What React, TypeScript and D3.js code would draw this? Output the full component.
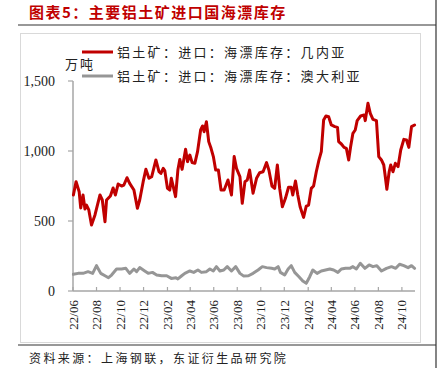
import React from "react";
import * as d3 from "d3";

const titleText = "图表5：主要铝土矿进口国海漂库存";
const sourceText = "资料来源：上海钢联，东证衍生品研究院";
const unitText = "万吨";
const seriesNames = ["铝土矿：进口：海漂库存：几内亚", "铝土矿：进口：海漂库存：澳大利亚"];
const seriesColors = ["#c00000", "#969696"];

const yTicks = [0, 500, 1000, 1500];
const xTickLabels = ["22/06", "22/08", "22/10", "22/12", "23/02", "23/04", "23/06", "23/08", "23/10", "23/12", "24/02", "24/04", "24/06", "24/08", "24/10"];
const xDomain = ["2022-06-01", "2024-11-04"];

const guinea: [string, number][] = [
  ["2022-06-02", 686], ["2022-06-09", 781], ["2022-06-17", 709], ["2022-06-21", 593], ["2022-06-27", 686],
  ["2022-07-02", 586], ["2022-07-06", 614], ["2022-07-12", 579], ["2022-07-19", 471], ["2022-07-28", 543],
  ["2022-08-10", 686], ["2022-08-16", 650], ["2022-08-23", 495], ["2022-08-27", 650], ["2022-09-06", 679],
  ["2022-09-13", 736], ["2022-09-19", 686], ["2022-09-26", 764], ["2022-10-05", 750], ["2022-10-11", 757],
  ["2022-10-19", 809], ["2022-10-26", 769], ["2022-11-06", 721], ["2022-11-15", 591], ["2022-11-21", 650],
  ["2022-11-30", 781], ["2022-12-07", 869], ["2022-12-15", 805], ["2022-12-22", 816], ["2023-01-02", 936],
  ["2023-01-10", 852], ["2023-01-15", 840], ["2023-01-21", 876], ["2023-01-25", 860], ["2023-02-01", 733],
  ["2023-02-07", 721], ["2023-02-11", 805], ["2023-02-16", 745], ["2023-02-22", 674], ["2023-02-28", 864],
  ["2023-03-05", 940], ["2023-03-11", 869], ["2023-03-20", 1012], ["2023-03-25", 924], ["2023-03-31", 971],
  ["2023-04-06", 917], ["2023-04-13", 912], ["2023-04-20", 995], ["2023-04-28", 1150], ["2023-05-03", 1179],
  ["2023-05-07", 1138], ["2023-05-13", 1209], ["2023-05-19", 1067], ["2023-05-25", 1019], ["2023-05-31", 960],
  ["2023-06-06", 864], ["2023-06-13", 864], ["2023-06-20", 721], ["2023-06-28", 721], ["2023-07-08", 793],
  ["2023-07-17", 686], ["2023-07-24", 960], ["2023-07-30", 876], ["2023-08-08", 816], ["2023-08-14", 626],
  ["2023-08-21", 781], ["2023-08-27", 793], ["2023-09-02", 864], ["2023-09-11", 698], ["2023-09-20", 805],
  ["2023-09-28", 845], ["2023-10-07", 852], ["2023-10-16", 917], ["2023-10-22", 864], ["2023-10-30", 750],
  ["2023-11-06", 733], ["2023-11-13", 900], ["2023-11-19", 733], ["2023-11-26", 602], ["2023-12-04", 662],
  ["2023-12-12", 741], ["2023-12-19", 741], ["2023-12-23", 686], ["2023-12-30", 786], ["2024-01-05", 686],
  ["2024-01-11", 602], ["2024-01-20", 526], ["2024-01-27", 607], ["2024-02-02", 614], ["2024-02-09", 733],
  ["2024-02-15", 750], ["2024-02-22", 852], ["2024-02-29", 936], ["2024-03-06", 995], ["2024-03-12", 1221],
  ["2024-03-18", 1250], ["2024-03-25", 1245], ["2024-04-01", 1186], ["2024-04-10", 1174], ["2024-04-17", 1169],
  ["2024-04-20", 1067], ["2024-04-27", 1050], ["2024-05-04", 1026], ["2024-05-10", 1019], ["2024-05-16", 936],
  ["2024-05-21", 1031], ["2024-05-27", 1126], ["2024-06-02", 1150], ["2024-06-07", 1217], ["2024-06-16", 1250],
  ["2024-06-25", 1257], ["2024-06-28", 1217], ["2024-07-05", 1341], ["2024-07-11", 1269], ["2024-07-18", 1226],
  ["2024-07-27", 1217], ["2024-08-02", 960], ["2024-08-09", 936], ["2024-08-15", 900], ["2024-08-19", 816],
  ["2024-08-23", 726], ["2024-08-29", 852], ["2024-09-02", 900], ["2024-09-08", 852], ["2024-09-14", 912],
  ["2024-09-21", 888], ["2024-09-28", 1007], ["2024-10-06", 1083], ["2024-10-13", 1079], ["2024-10-19", 1026],
  ["2024-10-26", 1174], ["2024-11-03", 1186],
];

const australia: [string, number][] = [
  ["2022-06-02", 119], ["2022-06-14", 126], ["2022-06-27", 126], ["2022-07-10", 138], ["2022-07-22", 126],
  ["2022-08-01", 181], ["2022-08-12", 126], ["2022-08-23", 109], ["2022-09-01", 95], ["2022-09-09", 114],
  ["2022-09-22", 157], ["2022-10-05", 157], ["2022-10-16", 162], ["2022-10-26", 126], ["2022-11-06", 157],
  ["2022-11-13", 138], ["2022-11-21", 167], ["2022-12-04", 143], ["2022-12-13", 126], ["2022-12-24", 133],
  ["2023-01-04", 114], ["2023-01-17", 109], ["2023-01-30", 109], ["2023-02-11", 90], ["2023-02-23", 95],
  ["2023-02-28", 86], ["2023-03-10", 109], ["2023-03-18", 126], ["2023-03-31", 143], ["2023-04-10", 133],
  ["2023-04-21", 150], ["2023-04-30", 133], ["2023-05-13", 138], ["2023-05-22", 157], ["2023-05-31", 143],
  ["2023-06-08", 174], ["2023-06-17", 143], ["2023-06-27", 150], ["2023-07-06", 174], ["2023-07-17", 143],
  ["2023-07-28", 174], ["2023-08-08", 126], ["2023-08-17", 108], ["2023-08-30", 109], ["2023-09-11", 126],
  ["2023-09-24", 150], ["2023-10-05", 174], ["2023-10-16", 167], ["2023-10-29", 162], ["2023-11-06", 157],
  ["2023-11-15", 174], ["2023-11-21", 133], ["2023-12-02", 114], ["2023-12-11", 157], ["2023-12-19", 181],
  ["2023-12-28", 133], ["2024-01-08", 102], ["2024-01-18", 71], ["2024-01-27", 55], ["2024-02-05", 102],
  ["2024-02-13", 150], ["2024-02-24", 126], ["2024-03-06", 143], ["2024-03-17", 150], ["2024-03-28", 157],
  ["2024-04-07", 150], ["2024-04-18", 133], ["2024-04-27", 157], ["2024-05-08", 162], ["2024-05-19", 162],
  ["2024-05-27", 174], ["2024-06-05", 157], ["2024-06-15", 198], ["2024-06-27", 162], ["2024-07-08", 186],
  ["2024-07-18", 174], ["2024-07-28", 181], ["2024-08-09", 143], ["2024-08-22", 162], ["2024-09-04", 174],
  ["2024-09-15", 162], ["2024-09-25", 191], ["2024-10-06", 181], ["2024-10-17", 167], ["2024-10-26", 181],
  ["2024-11-03", 162],
];

const parse = d3.timeParse("%Y-%m-%d");
const parseTick = d3.timeParse("%y/%m");

const CJK = "'Noto Sans CJK SC', sans-serif";
const SERIF = "'Liberation Serif', 'Times New Roman', serif";

export default function App() {
  const W = 445;
  const H = 377;
  const x = d3.scaleTime().domain(xDomain.map((d) => parse(d) as Date)).range([73, 415]);
  const y = d3.scaleLinear().domain([0, 1500]).range([291, 81]);
  const line = d3
    .line<[string, number]>()
    .x((d) => x(parse(d[0]) as Date))
    .y((d) => y(d[1]));
  const axisColor = "#a6a6a6";
  const series = [guinea, australia];

  return (
    <svg width={W} height={H} style={{ position: "absolute", left: 0, top: 0, background: "#fff" }}>
      <rect x={0} y={0} width={W} height={H} fill="#fff" />
      {/* title */}
      <text x={29} y={18} fill="#c00000" fontFamily={CJK} fontWeight="bold" fontSize={15} letterSpacing={1.5}>
        {titleText}
      </text>
      <line x1={18} x2={436} y1={25} y2={25} stroke="#333" strokeWidth={1.2} />
      <line x1={436} x2={436} y1={0} y2={368} stroke="#333" strokeWidth={1.2} />
      <line x1={18} x2={436} y1={345} y2={345} stroke="#333" strokeWidth={1.2} />
      {/* chart frame */}
      <rect x={20.5} y={33.5} width={400} height={309} fill="none" stroke="#d9d9d9" strokeWidth={1} />

      {/* y axis */}
      <line x1={73} x2={73} y1={y(1500)} y2={y(0)} stroke={axisColor} strokeWidth={1.5} />
      {yTicks.map((t) => (
        <g key={t}>
          <line x1={68} x2={73} y1={y(t)} y2={y(t)} stroke={axisColor} strokeWidth={1.2} />
          <text x={55} y={y(t)} dy="0.35em" textAnchor="end" fontFamily={SERIF} fontSize={14} fill="#222">
            {d3.format(",")(t)}
          </text>
        </g>
      ))}
      {/* x axis */}
      <line x1={73} x2={415} y1={y(0)} y2={y(0)} stroke={axisColor} strokeWidth={1.5} />
      {xTickLabels.map((lab) => {
        const px = x(parseTick(lab) as Date);
        return (
          <g key={lab}>
            <line x1={px} x2={px} y1={y(0)} y2={y(0) - 4} stroke={axisColor} strokeWidth={1.2} />
            <text
              transform={`translate(${px},${300}) rotate(-90)`}
              textAnchor="end"
              dy="0.35em"
              fontFamily={SERIF}
              fontSize={13}
              fill="#222"
            >
              {lab}
            </text>
          </g>
        );
      })}

      {/* lines */}
      {series
        .map((s, i) => ({ s, i }))
        .reverse()
        .map(({ s, i }) => (
          <path
            key={i}
            d={line(s) || ""}
            fill="none"
            stroke={seriesColors[i]}
            strokeWidth={3}
            strokeLinejoin="round"
            strokeLinecap="round"
          />
        ))}

      {/* unit */}
      <text x={65} y={64} dy="0.35em" fontFamily={CJK} fontSize={13} letterSpacing={2} fill="#222">
        {unitText}
      </text>
      {/* legend */}
      {seriesNames.map((name, i) => {
        const ly = 52 + i * 24;
        return (
          <g key={name}>
            <line x1={82} x2={113} y1={ly} y2={ly} stroke={seriesColors[i]} strokeWidth={3} />
            <text x={117} y={ly} dy="0.35em" fontFamily={CJK} fontSize={13} letterSpacing={2.3} fill="#222">
              {name}
            </text>
          </g>
        );
      })}

      {/* source */}
      <text x={29} y={359} dy="0.35em" fontFamily={CJK} fontSize={12} letterSpacing={2.4} fill="#222">
        {sourceText}
      </text>
    </svg>
  );
}
